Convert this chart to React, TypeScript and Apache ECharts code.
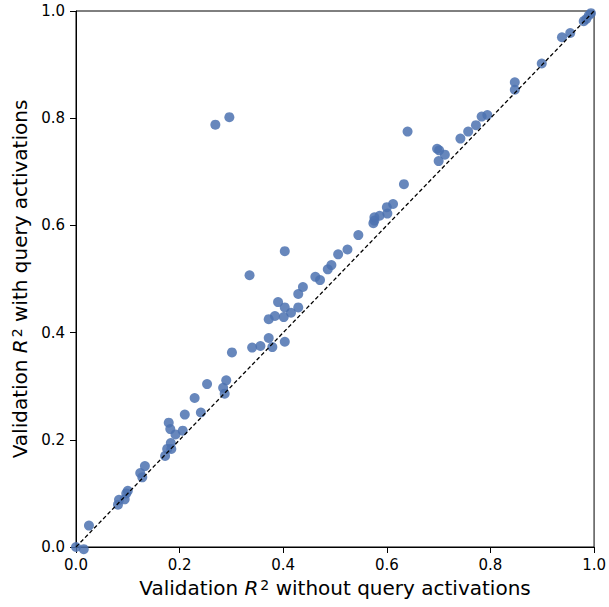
import React, { useEffect, useRef } from "react";
import * as echarts from "echarts";

// R² on the validation set, per model: without query activations (x) vs with them (y)
const withoutQuery: number[] = [
  0.0, 0.015, 0.025, 0.081, 0.083, 0.094, 0.1, 0.097, 0.124, 0.128,
  0.133, 0.172, 0.176, 0.183, 0.184, 0.179, 0.182, 0.192, 0.206, 0.21,
  0.229, 0.241, 0.253, 0.284, 0.287, 0.29, 0.269, 0.296, 0.301, 0.335,
  0.34, 0.356, 0.372, 0.379, 0.403, 0.372, 0.384, 0.401, 0.415, 0.403,
  0.429, 0.39, 0.429, 0.438, 0.403, 0.462, 0.471, 0.486, 0.493, 0.506,
  0.524, 0.545, 0.574, 0.576, 0.576, 0.586, 0.601, 0.6, 0.612, 0.633,
  0.64, 0.697, 0.701, 0.712, 0.7, 0.742, 0.757, 0.772, 0.783, 0.794,
  0.847, 0.847, 0.899, 0.938, 0.954, 0.98, 0.985, 0.99, 0.994,
];
const withQuery: number[] = [
  0.0, -0.004, 0.04, 0.079, 0.088, 0.089, 0.105, 0.1, 0.138, 0.13,
  0.151, 0.17, 0.183, 0.194, 0.183, 0.232, 0.22, 0.21, 0.217, 0.247,
  0.278, 0.251, 0.304, 0.297, 0.286, 0.311, 0.788, 0.802, 0.363, 0.507,
  0.372, 0.375, 0.39, 0.373, 0.383, 0.425, 0.431, 0.429, 0.437, 0.447,
  0.447, 0.457, 0.472, 0.485, 0.552, 0.504, 0.498, 0.518, 0.526, 0.546,
  0.555, 0.582, 0.604, 0.609, 0.615, 0.618, 0.622, 0.634, 0.64, 0.677,
  0.775, 0.743, 0.74, 0.732, 0.72, 0.762, 0.775, 0.787, 0.803, 0.806,
  0.867, 0.853, 0.902, 0.951, 0.959, 0.981, 0.985, 0.992, 0.996,
];
// y = x reference line
const identityLine: number[][] = [
  [0, 0],
  [1, 1],
];
const tickValues: number[] = [0, 0.2, 0.4, 0.6, 0.8, 1.0];

const FONT = "DejaVu Sans";

export default function App() {
  const ref = useRef<HTMLDivElement>(null);

  useEffect(() => {
    if (!ref.current) return;
    const chart = echarts.init(ref.current, undefined, { renderer: "svg" });
    const points = withoutQuery.map((x, i) => [x, withQuery[i]]);

    const nameStyle = {
      fontFamily: FONT,
      fontSize: 20,
      color: "#000",
      rich: {
        i: { fontFamily: FONT, fontSize: 20, fontStyle: "italic", color: "#000" },
        s: { fontFamily: FONT, fontSize: 14, verticalAlign: "top", color: "#000", padding: [0, 0, 0, 2] },
      },
    };

    const axisCommon = {
      type: "value" as const,
      min: 0,
      max: 1,
      interval: 0.2,
      splitLine: { show: false },
      axisLine: { show: true, lineStyle: { color: "#000", width: 1 } },
      axisTick: { show: true, inside: false, length: 6, lineStyle: { color: "#000" } },
      nameLocation: "middle" as const,
      nameTextStyle: nameStyle,
    };

    chart.setOption({
      animation: false,
      backgroundColor: "#fff",
      grid: {
        left: 76,
        right: 14,
        top: 11,
        bottom: 60,
        show: true,
        borderColor: "#000",
        borderWidth: 1,
        backgroundColor: "transparent",
      },
      xAxis: {
        ...axisCommon,
        name: "Validation {i|R}{s|2} without query activations",
        nameGap: 31,
        axisLabel: {
          fontFamily: FONT,
          fontSize: 15,
          color: "#000",
          margin: 10,
          formatter: (v: number) => (tickValues.includes(v) ? v.toFixed(1) : ""),
        },
      },
      yAxis: {
        ...axisCommon,
        name: "Validation {i|R}{s|2} with query activations",
        nameGap: 40,
        nameRotate: 90,
        axisLabel: {
          fontFamily: FONT,
          fontSize: 15,
          color: "#000",
          margin: 11,
          formatter: (v: number) => (tickValues.includes(v) ? v.toFixed(1) : ""),
        },
      },
      series: [
        {
          type: "scatter",
          data: points,
          symbol: "circle",
          symbolSize: 10,
          clip: false,
          itemStyle: { color: "#4C72B0", opacity: 0.85 },
          z: 2,
        },
        {
          type: "line",
          data: identityLine,
          symbol: "none",
          lineStyle: { color: "#000", width: 1.3, type: [4, 2.5] },
          z: 3,
        },
      ],
    });

    return () => chart.dispose();
  }, []);

  return (
    <div
      ref={ref}
      style={{ position: "fixed", left: 0, top: 0, width: 609, height: 607 }}
    />
  );
}
